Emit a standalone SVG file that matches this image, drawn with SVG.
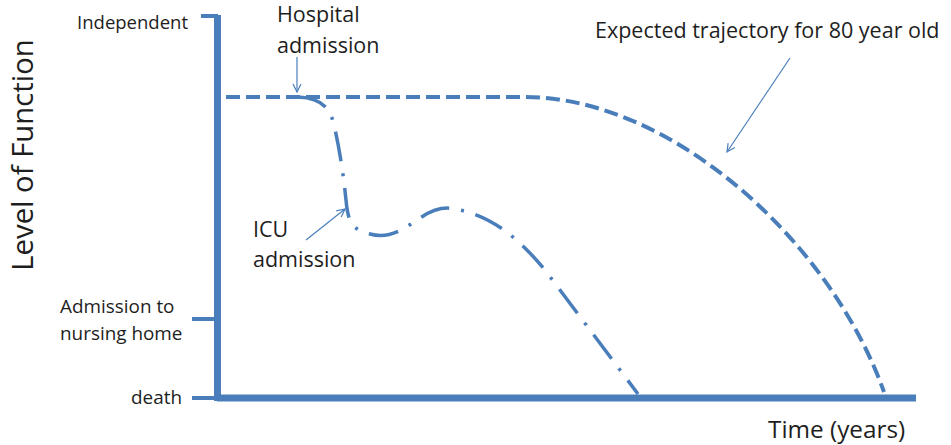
<svg xmlns="http://www.w3.org/2000/svg" width="951" height="445" viewBox="0 0 951 445">
<style>
text{font-family:"Open Sans","Liberation Sans",sans-serif;fill:#1e1e1e}
.axis{stroke:#4a7ebb;stroke-width:7;fill:none}
.tick{stroke:#4a7ebb;stroke-width:4;fill:none}
.exp{stroke:#4a7ebb;stroke-width:4;fill:none;stroke-dasharray:14 6}
.icu{stroke:#4a7ebb;stroke-width:3.5;fill:none;stroke-dasharray:30 12 3 12}
.ptr{stroke:#4a7ebb;stroke-width:1.2;fill:none;marker-end:url(#ah)}
.ann{font-size:21.5px}
.ax{font-size:18.9px}
</style>
<defs>
<marker id="ah" viewBox="0 0 10 10" refX="9" refY="5" markerWidth="10" markerHeight="10" markerUnits="userSpaceOnUse" orient="auto">
<path d="M1 1 L9 5 L1 9" fill="none" stroke="#4a7ebb" stroke-width="1.2"/>
</marker>
</defs>
<g id="axes">
<line class="axis" x1="217.5" y1="15" x2="217.5" y2="401"/>
<line class="axis" x1="217" y1="398" x2="916" y2="398"/>
<line class="tick" x1="201" y1="16" x2="218" y2="16"/>
<line class="tick" x1="192" y1="319" x2="216" y2="319"/>
<line class="tick" x1="192" y1="398" x2="216" y2="398"/>
</g>
<g id="labels">
<text x="188" y="29" font-size="18.5" text-anchor="end">Independent</text>
<text class="ax" x="60" y="313">Admission to</text>
<text class="ax" x="60" y="340">nursing home</text>
<text class="ax" x="182" y="404" text-anchor="end">death</text>
<text transform="translate(33,155) rotate(-90)" font-size="29.3" text-anchor="middle">Level of Function</text>
<text x="768" y="438" font-size="24.3">Time (years)</text>
</g>
<g id="expected">
<path class="exp" d="M226 97 L525 97 C670 97 830 240 884 392"/>
</g>
<g id="icu-trajectory">
<path class="icu" d="M298 97 C322 98 330 108 334 125 C340 150 344 180 346 200 C348 222 352 230 370 234 C390 240 405 228 420 218 C435 208 445 206 460 210 C495 218 520 240 545 270 L638 394"/>
</g>
<g id="connectors">
<line class="ptr" x1="297" y1="57" x2="297" y2="92"/>
<line class="ptr" x1="306" y1="240" x2="345" y2="209"/>
<line class="ptr" x1="790" y1="58" x2="727" y2="152"/>
</g>
<g id="annotations">
<text class="ann" x="277" y="22">Hospital</text>
<text class="ann" x="277" y="53">admission</text>
<text class="ann" x="253" y="237">ICU</text>
<text class="ann" x="253" y="267">admission</text>
<text class="ann" x="595" y="38">Expected trajectory for 80 year old</text>
</g>
</svg>
